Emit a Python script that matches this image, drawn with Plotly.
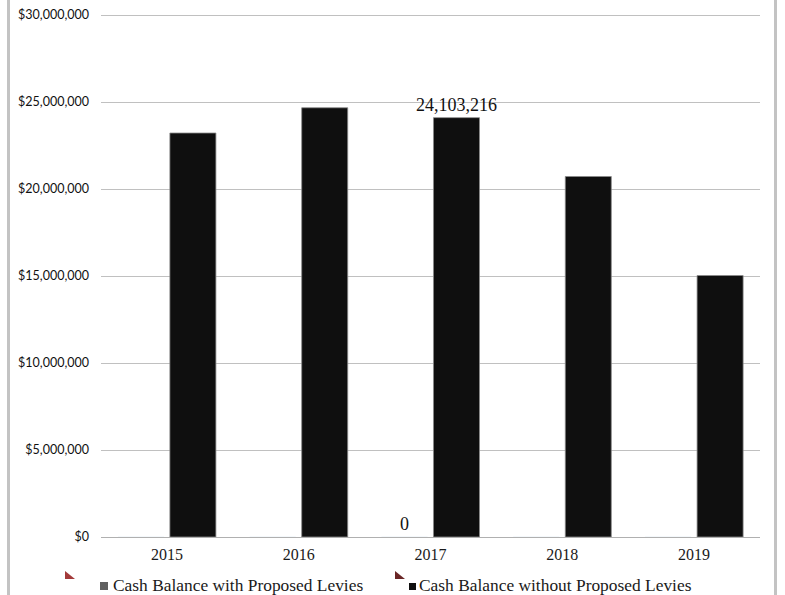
import plotly.graph_objects as go

years = ["2015", "2016", "2017", "2018", "2019"]
series_names = ["Cash Balance with Proposed Levies", "Cash Balance without Proposed Levies"]
with_levies = [0, 0, 0, 0, 0]
without_levies = [23220000, 24670000, 24103216, 20720000, 15030000]
labelled_year = "2017"
y_ticks = [0, 5000000, 10000000, 15000000, 20000000, 25000000, 30000000]
y_tick_text = [f"${v:,}" for v in y_ticks]

W, H = 785, 595
L, R, T, B = 101, 25, 14, 58
PW, PH = W - L - R, H - T - B
Y_MAX = 30060000


def px(x):
    return (x - L) / PW


def py(y):
    return (H - B - y) / PH


def labels(vals):
    return [f"{v:,}" if yr == labelled_year else "" for yr, v in zip(years, vals)]


serif = "Liberation Serif"
fig = go.Figure()
fig.add_trace(go.Bar(
    x=years, y=with_levies, name=series_names[0],
    marker=dict(color="#5f5f5f"),
    text=labels(with_levies), textposition="outside", constraintext="none",
    textfont=dict(family=serif, size=18, color="#111111"),
    cliponaxis=False,
))
fig.add_trace(go.Bar(
    x=years, y=without_levies, name=series_names[1],
    marker=dict(color="#0f0f0f", line=dict(color="#8a8a8a", width=0.8)),
    text=labels(without_levies), textposition="outside", constraintext="none",
    textfont=dict(family=serif, size=18, color="#111111"),
    cliponaxis=False,
))

shapes = []
# chart frame edges
for xp in (8.5, 775.5):
    shapes.append(dict(type="line", xref="paper", yref="paper",
                       x0=px(xp), x1=px(xp), y0=py(-5), y1=py(600),
                       line=dict(color="#c3c3c3", width=3)))
# legend decorations
tri = [((65, 571), (65, 579), (75, 579), "#a33a3a"),
       ((395, 571), (395, 579), (405, 579), "#6a2626")]
for a, b, c, col in tri:
    path = f"M {px(a[0])} {py(a[1])} L {px(b[0])} {py(b[1])} L {px(c[0])} {py(c[1])} Z"
    shapes.append(dict(type="path", xref="paper", yref="paper", path=path,
                       fillcolor=col, line=dict(width=0)))
sq = [((100, 582), (108, 590), "#606060"), ((409, 583), (416, 590), "#0f0f0f")]
for (x0, y0), (x1, y1), col in sq:
    shapes.append(dict(type="rect", xref="paper", yref="paper",
                       x0=px(x0), x1=px(x1), y0=py(y1), y1=py(y0),
                       fillcolor=col, line=dict(width=0)))

annotations = []
for name, xs in zip(series_names, (112, 418)):
    annotations.append(dict(text=name, xref="paper", yref="paper",
                            x=px(xs), y=py(585), xanchor="left", yanchor="middle",
                            showarrow=False, borderpad=0,
                            font=dict(family=serif, size=17.4, color="#1a1a1a")))

fig.update_layout(
    width=W, height=H,
    margin=dict(l=L, r=R, t=T, b=B, autoexpand=False),
    paper_bgcolor="white", plot_bgcolor="white",
    barmode="group", bargap=0.211, bargroupgap=0.115,
    showlegend=False,
    shapes=shapes, annotations=annotations,
    xaxis=dict(showgrid=False, showline=False, ticks="", automargin=False,
               ticklabelstandoff=6,
               tickfont=dict(family=serif, size=16, color="#1a1a1a")),
    yaxis=dict(range=[0, Y_MAX], tickmode="array", automargin=False,
               tickvals=y_ticks, ticktext=y_tick_text,
               showgrid=True, gridcolor="#c0c0c0", gridwidth=1.2,
               zeroline=True, zerolinecolor="#b0b0b0", zerolinewidth=1.2,
               showline=False, ticks="", ticklabelstandoff=11,
               tickfont=dict(family="Lato", size=12.5, color="#111111")),
)

fig.write_html("out.html", config={"displayModeBar": False},
               post_script="document.body.style.margin='0';document.body.style.overflow='hidden';")
